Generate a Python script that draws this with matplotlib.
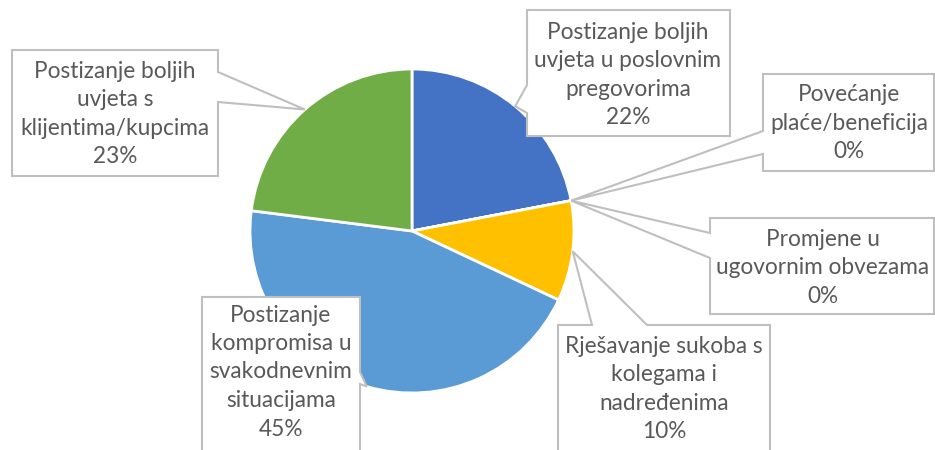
import numpy as np
import matplotlib.pyplot as plt
from matplotlib.patches import Polygon

# =========================
# Data
# =========================
categories = [
    ["Postizanje boljih", "uvjeta u poslovnim", "pregovorima"],
    ["Povećanje", "plaće/beneficija"],
    ["Promjene u", "ugovornim obvezama"],
    ["Rješavanje sukoba s", "kolegama i", "nadređenima"],
    ["Postizanje", "kompromisa u", "svakodnevnim", "situacijama"],
    ["Postizanje boljih", "uvjeta s", "klijentima/kupcima"],
]
shares = [22, 0, 0, 10, 45, 23]
colors = ["#4472C4", "#ED7D31", "#A5A5A5", "#FFC000", "#5B9BD5", "#70AD47"]

# =========================
# Layout (pixel coords, y down)
# =========================
W, H = 935, 450
cx, cy, rad = 412, 231, 162

# box: (x0, y0, x1, y1), wedge side, wedge span along side, text centre
boxes = [
    ((527, 10, 730, 136), "left", (85, 113), (628, 75)),
    ((763, 74, 934, 171), "left", (131, 154), (849, 123)),
    ((710, 218, 934, 314), "left", (233, 258), (823, 268)),
    ((558, 325, 770, 470), "top", (592, 647), (664, 389)),
    ((202, 297, 360, 470), "right", (372, 384), (281, 372)),
    ((12, 50, 218, 176), "right", (72, 102), (115, 114)),
]
line_gap = 28.5
text_color = "#595959"
edge_color = "#BFBFBF"
font = ["Lato", "DejaVu Sans"]

fig = plt.figure(figsize=(W / 100, H / 100), dpi=100)
ax = fig.add_axes([0, 0, 1, 1])
ax.set_xlim(0, W)
ax.set_ylim(H, 0)
ax.axis("off")

# y axis is inverted, so start at -90 and go counterclockwise in data -> clockwise on screen
wedges, _ = ax.pie(shares, colors=colors, startangle=-90, counterclock=True,
                   center=(cx, cy), radius=rad, normalize=True,
                   wedgeprops=dict(edgecolor="white", linewidth=2.0))
ax.set_xlim(0, W)
ax.set_ylim(H, 0)


def callout(box, side, span, tip):
    x0, y0, x1, y1 = box
    a, b = span
    if side == "left":
        pts = [(x0, y0), (x1, y0), (x1, y1), (x0, y1), (x0, b), tip, (x0, a)]
    elif side == "right":
        pts = [(x0, y0), (x1, y0), (x1, a), tip, (x1, b), (x1, y1), (x0, y1)]
    else:  # top
        pts = [(x0, y0), (a, y0), tip, (b, y0), (x1, y0), (x1, y1), (x0, y1)]
    ax.add_patch(Polygon(pts, closed=True, facecolor="white",
                         edgecolor=edge_color, linewidth=1.5, zorder=3))


for w, lines, v, (box, side, span, tc) in zip(wedges, categories, shares, boxes):
    mid = np.deg2rad((w.theta1 + w.theta2) / 2)
    tip = (cx + rad * np.cos(mid), cy + rad * np.sin(mid))
    callout(box, side, span, tip)
    txt = lines + [f"{v}%"]
    n = len(txt)
    for i, t in enumerate(txt):
        y = tc[1] + (i - (n - 1) / 2) * line_gap
        ax.text(tc[0], y, t, ha="center", va="center", fontsize=16.3,
                color=text_color, family=font, zorder=4)

fig.savefig("out.png", dpi=100)
